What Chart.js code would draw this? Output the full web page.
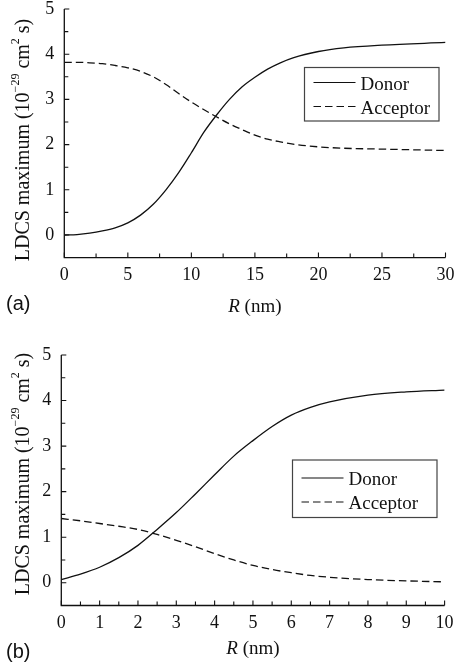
<!DOCTYPE html>
<html>
<head>
<meta charset="utf-8">
<title>LDCS maximum vs R</title>
<script src="https://cdn.jsdelivr.net/npm/chart.js@4.4.0/dist/chart.umd.min.js"></script>
<style>
  body { margin: 0; background: #fff; width: 455px; height: 668px; position: relative; overflow: hidden; }
  canvas { position: absolute; left: 0; }
  #chartA { top: 0; }
  #chartB { top: 330px; }
</style>
</head>
<body>
<canvas id="chartA" width="455" height="330"></canvas>
<canvas id="chartB" width="455" height="338"></canvas>
<script>
//Data

//Panel (a)
const rA = [0, 1, 2, 3, 4, 5, 6, 7, 8, 9, 10, 11, 12, 13, 14, 15, 16, 17, 18, 20, 22, 25, 30];
const donorA = [0, 0.01, 0.04, 0.09, 0.16, 0.27, 0.44, 0.68, 1.0, 1.38, 1.82, 2.28, 2.66, 3.0, 3.28, 3.49, 3.67, 3.81, 3.92, 4.06, 4.14, 4.20, 4.26];
const acceptorA = [3.82, 3.82, 3.81, 3.79, 3.75, 3.70, 3.62, 3.50, 3.33, 3.13, 2.94, 2.77, 2.61, 2.46, 2.33, 2.21, 2.12, 2.06, 2.01, 1.95, 1.92, 1.90, 1.87];
const xTicksA = [0, 5, 10, 15, 20, 25, 30];

//Panel (b)
const rB = [0, 0.5, 1, 1.5, 2, 2.5, 3, 3.5, 4, 4.5, 5, 5.5, 6, 6.5, 7, 8, 9, 10];
const donorB = [0.07, 0.19, 0.34, 0.55, 0.82, 1.17, 1.54, 1.95, 2.37, 2.78, 3.12, 3.43, 3.68, 3.85, 3.97, 4.12, 4.19, 4.23];
const acceptorB = [1.41, 1.36, 1.30, 1.24, 1.17, 1.06, 0.93, 0.79, 0.64, 0.50, 0.38, 0.29, 0.22, 0.16, 0.12, 0.07, 0.04, 0.02];
const xTicksB = [0, 1, 2, 3, 4, 5, 6, 7, 8, 9, 10];

const yTicks = [0, 1, 2, 3, 4, 5];
const seriesNames = ['Donor', 'Acceptor'];
const panelNames = ['(a)', '(b)'];

const SERIF = '"Liberation Serif", "Times New Roman", serif';
const SANS = '"Liberation Sans", Arial, sans-serif';
const INK = '#111';

function pts(xs, ys) {
  return xs.map((x, i) => ({ x: x, y: ys[i] }));
}

//draws axes with inward ticks, the titles, the legend box and the panel letter
function makeDecor(cfg) {
  return {
    id: 'decor',
    afterDraw(chart) {
      const ctx = chart.ctx;
      const xs = chart.scales.x, ys = chart.scales.y;
      const a = chart.chartArea;
      ctx.save();
      ctx.strokeStyle = INK;
      ctx.lineWidth = 1.3;

      //axis lines
      ctx.beginPath();
      ctx.moveTo(a.left, a.top);
      ctx.lineTo(a.left, a.bottom);
      ctx.lineTo(a.right, a.bottom);
      ctx.stroke();

      //x ticks, major + minor half way
      const xt = cfg.xTicks;
      ctx.lineWidth = 1.1;
      ctx.beginPath();
      for (let i = 0; i < xt.length; i++) {
        let px = xs.getPixelForValue(xt[i]);
        ctx.moveTo(px, a.bottom);
        ctx.lineTo(px, a.bottom - 5);
        if (i < xt.length - 1) {
          let pm = xs.getPixelForValue((xt[i] + xt[i + 1]) / 2);
          ctx.moveTo(pm, a.bottom);
          ctx.lineTo(pm, a.bottom - 4);
        }
      }
      //y ticks
      for (let i = 0; i < yTicks.length; i++) {
        let py = ys.getPixelForValue(yTicks[i]);
        ctx.moveTo(a.left, py);
        ctx.lineTo(a.left + 5, py);
        if (i < yTicks.length - 1) {
          let pm = ys.getPixelForValue((yTicks[i] + yTicks[i + 1]) / 2);
          ctx.moveTo(a.left, pm);
          ctx.lineTo(a.left + 4, pm);
        }
      }
      ctx.stroke();

      ctx.fillStyle = INK;
      ctx.textBaseline = 'alphabetic';

      //x title: italic R
      ctx.font = 'italic 19px ' + SERIF;
      const wR = ctx.measureText('R').width;
      ctx.font = '19px ' + SERIF;
      const wRest = ctx.measureText(' (nm)').width;
      let x0 = (a.left + a.right) / 2 - (wR + wRest) / 2;
      ctx.font = 'italic 19px ' + SERIF;
      ctx.textAlign = 'left';
      ctx.fillText('R', x0, cfg.xTitleBase);
      ctx.font = '19px ' + SERIF;
      ctx.fillText(' (nm)', x0 + wR, cfg.xTitleBase);

      //y title with superscripts
      const parts = [
        ['LDCS maximum (10', false],
        ['\u221229', true],
        [' cm', false],
        ['2', true],
        [' s)', false]
      ];
      let total = 0;
      parts.forEach(p => {
        ctx.font = (p[1] ? '12px ' : '20px ') + SERIF;
        total += ctx.measureText(p[0]).width;
      });
      ctx.save();
      ctx.translate(28.5, cfg.yTitleMid);
      ctx.rotate(-Math.PI / 2);
      let cx = -total / 2;
      parts.forEach(p => {
        ctx.font = (p[1] ? '12px ' : '20px ') + SERIF;
        ctx.fillText(p[0], cx, p[1] ? -10 : 0);
        cx += ctx.measureText(p[0]).width;
      });
      ctx.restore();

      //legend
      const L = cfg.legend;
      ctx.strokeStyle = '#444';
      ctx.lineWidth = 1.2;
      ctx.strokeRect(L.x, L.y, L.w, L.h);
      chart.data.datasets.forEach((ds, i) => {
        let ly = L.y + L.row0 + i * 24;
        ctx.strokeStyle = INK;
        ctx.lineWidth = 1.2;
        ctx.setLineDash(ds.borderDash || []);
        ctx.beginPath();
        ctx.moveTo(L.x + 9, ly);
        ctx.lineTo(L.x + 51, ly);
        ctx.stroke();
        ctx.setLineDash([]);
        ctx.font = '19px ' + SERIF;
        ctx.textAlign = 'left';
        ctx.fillText(ds.label, L.x + 56, ly + 7);
      });

      //panel letter
      ctx.font = '20px ' + SANS;
      ctx.fillText(cfg.letter, 6, cfg.letterBase);
      ctx.restore();
    }
  };
}

function makeChart(canvasId, xs, donor, acceptor, cfg) {
  const H = document.getElementById(canvasId).height;
  const ctx = document.getElementById(canvasId).getContext('2d');
  return new Chart(ctx, {
    type: 'line',
    data: {
      datasets: [{
        label: seriesNames[0],
        data: pts(xs, donor),
        borderColor: INK,
        borderWidth: 1.3,
        pointRadius: 0,
        cubicInterpolationMode: 'monotone',
        fill: false
      }, {
        label: seriesNames[1],
        data: pts(xs, acceptor),
        borderColor: INK,
        borderWidth: 1.3,
        borderDash: [7.5, 4],
        pointRadius: 0,
        cubicInterpolationMode: 'monotone',
        fill: false
      }]
    },
    options: {
      responsive: false,
      animation: false,
      events: [],
      layout: { padding: { left: 0, top: cfg.area.top, right: 455 - cfg.area.right, bottom: 0 } },
      plugins: { legend: { display: false }, tooltip: { enabled: false } },
      scales: {
        x: {
          type: 'linear',
          min: cfg.xTicks[0],
          max: cfg.xTicks[cfg.xTicks.length - 1],
          grid: { display: false, drawTicks: false },
          border: { display: false },
          ticks: { color: INK, font: { family: SERIF, size: 18 }, padding: 6.5, autoSkip: false, maxRotation: 0 },
          afterBuildTicks: s => { s.ticks = cfg.xTicks.map(v => ({ value: v })); },
          afterFit: s => { s.height = H - cfg.area.bottom; s.paddingLeft = 0; s.paddingRight = 0; }
        },
        y: {
          min: -0.5,
          max: 5,
          grid: { display: false, drawTicks: false },
          border: { display: false },
          ticks: { color: INK, font: { family: SERIF, size: 18 }, padding: 10 },
          afterBuildTicks: s => { s.ticks = yTicks.map(v => ({ value: v })); },
          afterFit: s => { s.width = cfg.area.left; s.paddingTop = 0; s.paddingBottom = 0; }
        }
      }
    },
    plugins: [makeDecor(cfg)]
  });
}

makeChart('chartA', rA, donorA, acceptorA, {
  area: { left: 64.3, right: 445.5, top: 9, bottom: 257.6 },
  xTicks: xTicksA,
  xTitleBase: 311.7,
  yTitleMid: 140,
  legend: { x: 304.5, y: 67.5, w: 134.5, h: 53.5, row0: 15 },
  letter: panelNames[0],
  letterBase: 309.5
});

makeChart('chartB', rB, donorB, acceptorB, {
  area: { left: 61.3, right: 444.6, top: 25, bottom: 275.5 },
  xTicks: xTicksB,
  xTitleBase: 324.3,
  yTitleMid: 144,
  legend: { x: 292.5, y: 130, w: 144.5, h: 57.5, row0: 18 },
  letter: panelNames[1],
  letterBase: 327.7
});
</script>
</body>
</html>
